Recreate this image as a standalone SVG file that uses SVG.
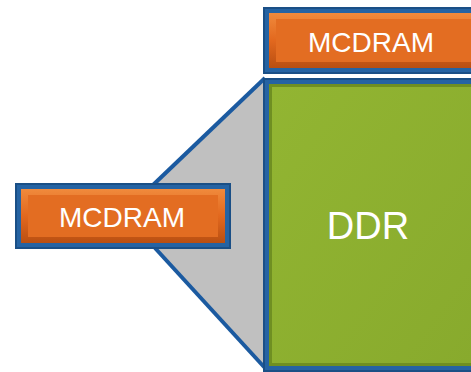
<svg xmlns="http://www.w3.org/2000/svg" width="471" height="372" viewBox="0 0 471 372">
<defs>
<linearGradient id="og" x1="0" y1="0" x2="0" y2="1">
<stop offset="0" stop-color="#f08a3c"/>
<stop offset="0.5" stop-color="#e2681e"/>
<stop offset="1" stop-color="#b94f12"/>
</linearGradient>
<linearGradient id="gg" x1="0" y1="0" x2="1" y2="1">
<stop offset="0" stop-color="#92b532"/>
<stop offset="1" stop-color="#88aa2d"/>
</linearGradient>
<style>
.blue{fill:#2563a3;stroke:#1a4f86;stroke-width:2}
.obev{fill:url(#og)}
.oface{fill:#e36d22}
.lbl{font-family:"Liberation Sans",Arial,sans-serif;fill:#ffffff;text-anchor:middle}
</style>
</defs>
<g id="connectors">
<polygon points="265,78 153,185 155,248 265,368" fill="#c0c0c0"/>
<line x1="265" y1="78" x2="153" y2="185" stroke="#1b5aa0" stroke-width="4"/>
<line x1="155" y1="248" x2="265" y2="368" stroke="#1b5aa0" stroke-width="4"/>
</g>
<g id="mcdram-top">
<rect class="blue" x="264" y="8" width="210" height="65"/>
<rect class="obev" x="269" y="13" width="205" height="55"/>
<rect class="oface" x="276" y="19" width="198" height="43"/>
<text class="lbl" x="371" y="52" font-size="28">MCDRAM</text>
</g>
<g id="mcdram-left">
<rect class="blue" x="16" y="184" width="214" height="64"/>
<rect class="obev" x="21" y="189" width="204" height="54"/>
<rect class="oface" x="28" y="195" width="190" height="42"/>
<text class="lbl" x="122" y="227" font-size="28">MCDRAM</text>
</g>
<g id="ddr">
<rect class="blue" x="264" y="79" width="210" height="292"/>
<rect x="269" y="84" width="205" height="282" fill="#6f8f22"/>
<rect x="272" y="87" width="202" height="276" fill="url(#gg)"/>
<text class="lbl" x="368" y="239" font-size="38">DDR</text>
</g>
</svg>
